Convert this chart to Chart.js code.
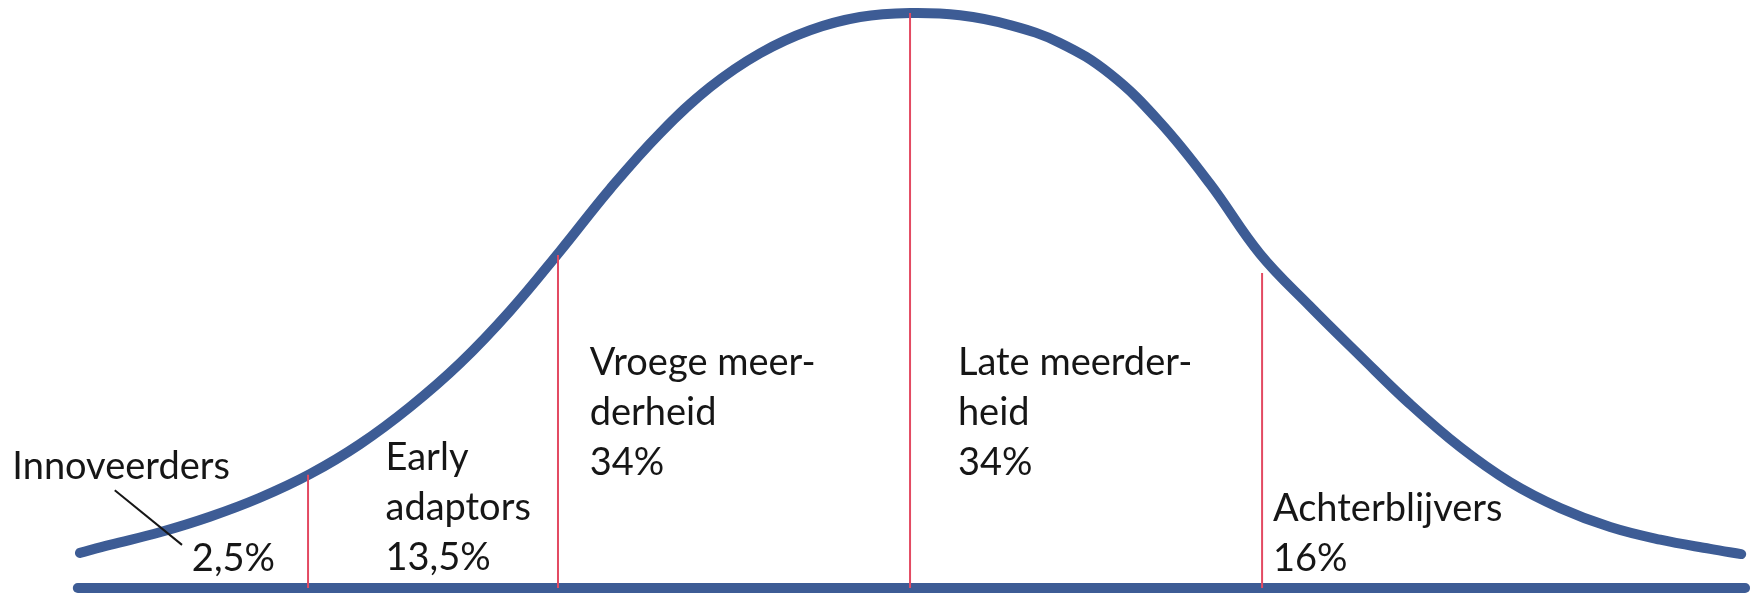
<!DOCTYPE html>
<html lang="nl">
<head>
<meta charset="utf-8">
<title>Adoptiecurve</title>
<style>
html, body { margin: 0; padding: 0; background: #fff; overflow: hidden; }
.holder { width: 1756px; height: 596px; }
</style>
</head>
<body>
<div class="holder"><canvas id="canvas"></canvas></div>

<script src="https://cdn.jsdelivr.net/npm/chart.js"></script>
<script>
// curve: x = standard deviations from the top, y = % of the top
const curveX = [-2.358, -2.273, -2.131, -1.989, -1.847, -1.705, -1.563, -1.420, -1.278, -1.136,
                -0.994, -0.852, -0.710, -0.568, -0.426, -0.284, -0.142, 0,
                0.142, 0.284, 0.426, 0.568, 0.710, 0.852, 0.994, 1.136, 1.278,
                1.420, 1.563, 1.705, 1.847, 1.989, 2.131, 2.273, 2.361];
const curveY = [6.1, 7.5, 9.7, 12.4, 15.7, 19.8, 25.0, 31.5, 39.1, 48.2,
                58.6, 69.4, 79.1, 87.1, 93.0, 97.0, 99.3, 100,
                99.6, 97.9, 94.8, 89.4, 81.0, 70.3, 58.1, 49.0, 40.4,
                32.0, 24.5, 18.4, 13.9, 10.6, 8.4, 6.8, 5.9];

// group borders (red lines) and how high each one reaches
const splitX = [-1.71, -1, 0, 1];
const splitTop = [19.7, 57.9, 100, 54.8];

// the x axis line
const axisX = [-2.364, 2.372];

// group labels, one text block each
const groupLines = [
  ['Innoveerders'],
  ['2,5%'],
  ['Early', 'adaptors', '13,5%'],
  ['Vroege meer-', 'derheid', '34%'],
  ['Late meerder-', 'heid', '34%'],
  ['Achterblijvers', '16%']
];
const groupAtX = [-2.55, -2.04, -1.49, -0.91, 0.136, 1.031];
const groupAtY = [19.0, 3.0, 20.5, 37.0, 37.0, 11.65];

// the little pointer from "Innoveerders" to its percentage
const pointerX = [-2.259, -2.068];
const pointerY = [17.0, 7.5];

const blue = '#3d5c95';
const red = '#e34a62';
const ink = '#161616';
const font = '38px Lato';
const lineGap = 8.7; // y units between text lines

const datasets = [];
splitX.forEach((x, i) => {
  datasets.push({ data: [{x: x, y: 0}, {x: x, y: splitTop[i]}], borderColor: red, borderWidth: 2, order: 0 });
});
datasets.push({ data: pointerX.map((x, i) => ({x: x, y: pointerY[i]})), borderColor: ink, borderWidth: 2, order: 0 });
datasets.push({
  data: curveX.map((x, i) => ({x: x, y: curveY[i]})),
  borderColor: blue, borderWidth: 10, borderCapStyle: 'round', borderJoinStyle: 'round',
  tension: 0.4, order: 1
});
datasets.push({
  data: axisX.map(x => ({x: x, y: 0})),
  borderColor: blue, borderWidth: 10, borderCapStyle: 'round', order: 1
});
datasets.forEach(d => { d.pointRadius = 0; d.fill = false; d.clip = false; });

const textPlugin = {
  id: 'groupText',
  afterDatasetsDraw(chart) {
    const c = chart.ctx, xs = chart.scales.x, ys = chart.scales.y;
    c.save();
    c.font = font;
    c.fillStyle = ink;
    c.textBaseline = 'alphabetic';
    c.textAlign = 'left';
    groupLines.forEach((lines, i) => {
      lines.forEach((t, j) => {
        c.fillText(t, xs.getPixelForValue(groupAtX[i]), ys.getPixelForValue(groupAtY[i] - j * lineGap));
      });
    });
    c.restore();
  }
};

function makeChart() {
  const ctx = document.getElementById('canvas').getContext('2d');
  new Chart(ctx, {
    type: 'line',
    data: { datasets: datasets },
    options: {
      responsive: true,
      maintainAspectRatio: false,
      animation: false,
      layout: { padding: 0 },
      plugins: { legend: { display: false }, tooltip: { enabled: false } },
      scales: {
        x: { type: 'linear', min: -2.585, max: 2.403, display: false },
        y: { type: 'linear', min: -1.39, max: 102.26, display: false }
      }
    },
    plugins: [textPlugin]
  });
}

document.fonts.load(font).then(makeChart, makeChart);
</script>
</body>
</html>
